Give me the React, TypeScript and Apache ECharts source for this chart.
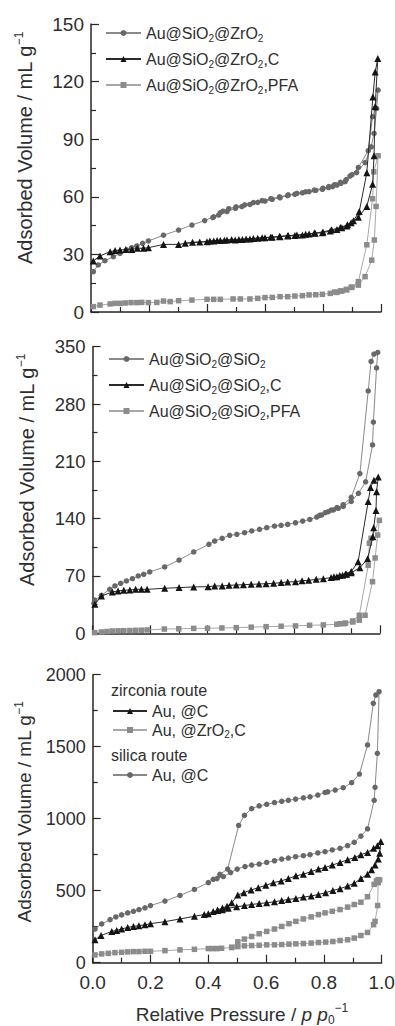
import React, { useEffect, useRef } from 'react';
import * as echarts from 'echarts';

const FONT = '"Liberation Sans", Arial, Helvetica, sans-serif';
const TXT = '#2e2e2e';
const AX = '#262626';

// ---------- Panel 1 (Au@SiO2@ZrO2 family) ----------
const p1CircleAds = [[0.008,21],[0.025,24.5],[0.048,26.7],[0.077,28.8],[0.1,30.5],[0.123,32.3],[0.14,33.5],[0.158,34.4],[0.178,35.8],[0.198,37],[0.25,40],[0.302,42.7],[0.348,45.3],[0.392,47.6],[0.423,49.6],[0.446,51.7],[0.469,52.3],[0.498,54],[0.52,54.9],[0.548,56],[0.575,57.1],[0.6,57.8],[0.625,58.7],[0.652,59.5],[0.678,60.6],[0.703,61.3],[0.729,62.1],[0.752,62.7],[0.775,63.3],[0.798,63.9],[0.819,64.8],[0.833,65.3],[0.848,66.1],[0.862,67],[0.876,67.9],[0.893,70.8],[0.916,72.6],[0.945,77.8],[0.966,86],[0.976,93],[0.985,106],[0.99,115.6]];
const p1CircleDes = [[0.98,106],[0.971,101.7],[0.956,84],[0.922,75.3],[0.9,71.5],[0.88,69],[0.86,67.5],[0.84,66.3],[0.82,65.3],[0.8,64.5],[0.77,63.5],[0.74,62.6],[0.71,61.8],[0.68,61],[0.65,60],[0.62,59],[0.59,58],[0.56,57],[0.53,55.8],[0.5,54.8],[0.475,53.8],[0.455,52.5],[0.44,50.5],[0.42,49.2]];
const p1TriAds = [[0.008,26.6],[0.031,29.2],[0.066,31.4],[0.083,32],[0.1,32.3],[0.12,32.6],[0.141,32.6],[0.16,33.2],[0.181,33.2],[0.198,33.5],[0.25,35.2],[0.302,35.2],[0.35,36.3],[0.4,36.6],[0.423,37],[0.446,37.2],[0.469,37.5],[0.497,37.5],[0.522,37.8],[0.548,38],[0.575,38.4],[0.6,38.7],[0.625,38.9],[0.652,39.2],[0.678,39.6],[0.703,39.8],[0.729,40.1],[0.752,40.6],[0.773,41],[0.798,41.3],[0.825,42.2],[0.848,43],[0.865,43.9],[0.882,44.8],[0.897,46.5],[0.922,49.3],[0.951,55],[0.971,66.5],[0.976,81.4],[0.98,107],[0.989,132]];
const p1TriDes = [[0.98,125],[0.972,112],[0.951,72.5],[0.925,52.3],[0.905,47.5],[0.885,45.5],[0.86,44],[0.83,42.8],[0.8,41.7],[0.77,41.1],[0.74,40.5],[0.71,40.1],[0.68,39.8],[0.65,39.4],[0.62,39],[0.59,38.7],[0.56,38.3],[0.535,38],[0.51,37.8],[0.485,37.7],[0.46,37.4],[0.435,37.3],[0.41,37],[0.375,36.4],[0.325,35.8]];
const p1SqAds = [[0.008,2.8],[0.031,3.6],[0.066,4.2],[0.083,4.5],[0.1,4.5],[0.118,4.7],[0.138,4.9],[0.158,4.9],[0.175,5],[0.198,4.9],[0.227,5],[0.25,5.7],[0.273,5.4],[0.302,5.9],[0.348,6.2],[0.4,6.6],[0.423,6.6],[0.446,6.6],[0.49,6.8],[0.515,6.8],[0.548,6.8],[0.575,7.1],[0.6,7.5],[0.625,7.6],[0.652,8],[0.678,8],[0.703,8.3],[0.729,8.5],[0.752,8.9],[0.775,9],[0.798,9.2],[0.825,9.7],[0.848,10.2],[0.865,10.9],[0.882,11.5],[0.897,12.8],[0.922,14],[0.945,18.4],[0.968,27],[0.977,37.5],[0.983,55],[0.99,81.4]];
const p1SqDes = [[0.975,73],[0.971,59],[0.951,35],[0.922,15.8],[0.9,13],[0.88,11.8],[0.86,11],[0.84,10.4]];

// ---------- Panel 2 (Au@SiO2@SiO2 family) ----------
const p2CircleAds = [[0.005,36.6],[0.008,40.5],[0.031,46.4],[0.06,53.7],[0.078,57.8],[0.098,61],[0.118,63.9],[0.139,66.7],[0.159,70],[0.178,72],[0.199,74.9],[0.251,81],[0.301,89.5],[0.352,99.3],[0.405,108.7],[0.425,112.7],[0.451,116],[0.477,119.7],[0.502,120.9],[0.529,122.9],[0.554,125],[0.581,127],[0.606,129],[0.633,131],[0.656,131.9],[0.679,133],[0.706,135],[0.731,137],[0.756,139],[0.78,142],[0.797,144.5],[0.82,148.5],[0.838,150.6],[0.855,152.6],[0.872,155],[0.9,161],[0.925,171],[0.95,185],[0.974,230],[0.977,258],[0.988,324],[0.992,343]];
const p2CircleDes = [[0.979,341],[0.969,332],[0.959,296],[0.93,195],[0.9,166],[0.872,157],[0.85,153.5],[0.83,150.5],[0.81,147.5],[0.79,144]];
const p2TriAds = [[0.008,35.4],[0.031,45.6],[0.069,50.5],[0.089,51.7],[0.109,52.5],[0.13,52.9],[0.15,53.7],[0.17,53.7],[0.19,53.7],[0.251,55],[0.301,55.8],[0.352,56.6],[0.402,57],[0.425,57.8],[0.451,57.8],[0.475,58.6],[0.5,59],[0.525,59.4],[0.552,59.8],[0.579,60.2],[0.604,60.6],[0.63,61],[0.656,61.9],[0.679,62.7],[0.706,63],[0.729,64.3],[0.752,64.7],[0.778,65.9],[0.803,66.7],[0.83,68],[0.85,69.2],[0.87,70.8],[0.884,72],[0.9,74],[0.93,80],[0.957,91],[0.975,118],[0.978,129],[0.986,150],[0.988,173],[0.994,191]];
const p2TriDes = [[0.979,187],[0.967,178],[0.959,161],[0.924,87.5],[0.9,75.5],[0.88,72.5],[0.86,70.5],[0.84,69]];
const p2SqAds = [[0.008,0.8],[0.031,1.6],[0.05,2.2],[0.069,2.8],[0.089,3],[0.109,3.2],[0.13,3.4],[0.15,3.6],[0.17,3.8],[0.19,4.1],[0.25,5.2],[0.3,5.5],[0.352,6],[0.4,6.1],[0.45,6.5],[0.5,6.9],[0.552,7.5],[0.604,8.1],[0.656,8.6],[0.706,9],[0.755,9.8],[0.803,10.2],[0.85,11],[0.876,11.8],[0.905,13.8],[0.928,16],[0.948,22],[0.974,63],[0.983,92],[0.992,120],[0.998,138]];
const p2SqDes = [[0.969,116],[0.963,110],[0.959,83],[0.928,22],[0.905,15],[0.88,12.5],[0.86,11.6]];

// ---------- Panel 3 (carbon replicas) ----------
const p3TriAds = [[0.008,159],[0.029,189],[0.066,217],[0.083,224],[0.1,234],[0.121,245],[0.141,252],[0.16,257],[0.181,264],[0.2,271],[0.25,285],[0.302,304],[0.352,322],[0.386,335],[0.4,340],[0.417,355],[0.432,362],[0.449,368],[0.469,378],[0.498,388],[0.525,397],[0.55,404],[0.576,411],[0.602,416],[0.629,423],[0.654,432],[0.677,439],[0.703,446],[0.729,456],[0.756,463],[0.781,474],[0.806,486],[0.831,502],[0.856,514],[0.882,533],[0.905,551],[0.928,584],[0.951,614],[0.965,645],[0.977,678],[0.988,720],[0.993,760],[0.997,841]];
const p3TriDes = [[0.985,812],[0.972,795],[0.951,766],[0.928,750],[0.907,731],[0.882,715],[0.856,696],[0.829,678],[0.804,661],[0.781,650],[0.756,633],[0.729,614],[0.703,603],[0.677,584],[0.652,568],[0.625,556],[0.599,537],[0.573,521],[0.548,505],[0.523,486],[0.502,470],[0.481,416],[0.465,392],[0.449,379],[0.432,366]];
const p3SqAds = [[0.008,54],[0.031,61],[0.054,65],[0.077,70],[0.1,72],[0.121,75],[0.141,77],[0.16,77],[0.181,79],[0.2,79],[0.25,84],[0.302,89],[0.352,93],[0.4,98],[0.415,98],[0.43,98],[0.446,100],[0.481,105],[0.502,112],[0.525,117],[0.55,119],[0.576,121],[0.602,124],[0.629,124],[0.654,126],[0.679,129],[0.703,131],[0.729,133],[0.756,136],[0.781,140],[0.806,143],[0.831,147],[0.856,154],[0.882,159],[0.905,171],[0.928,189],[0.951,210],[0.972,264],[0.977,287],[0.986,397],[0.988,556],[0.993,575]];
const p3SqDes = [[0.988,577],[0.982,568],[0.974,544],[0.951,458],[0.928,420],[0.905,404],[0.882,386],[0.856,369],[0.829,357],[0.804,346],[0.781,334],[0.756,318],[0.729,304],[0.703,287],[0.679,271],[0.654,252],[0.629,234],[0.602,217],[0.576,201],[0.55,182],[0.525,164],[0.502,145],[0.481,107]];
const p3CircleAds = [[0.008,234],[0.031,269],[0.06,299],[0.08,318],[0.1,332],[0.121,346],[0.141,357],[0.16,369],[0.181,381],[0.2,397],[0.25,428],[0.302,467],[0.352,509],[0.4,556],[0.417,579],[0.452,598],[0.477,626],[0.5,650],[0.527,668],[0.55,678],[0.576,685],[0.602,696],[0.629,708],[0.654,720],[0.677,727],[0.702,736],[0.729,743],[0.752,750],[0.779,762],[0.804,771],[0.829,783],[0.856,794],[0.882,813],[0.905,836],[0.928,879],[0.951,930],[0.974,1128],[0.977,1218],[0.985,1454],[0.991,1882]];
const p3CircleDes = [[0.98,1859],[0.971,1801],[0.951,1512],[0.923,1310],[0.896,1250],[0.867,1215],[0.839,1199],[0.813,1187],[0.804,1182],[0.779,1164],[0.752,1152],[0.729,1145],[0.702,1136],[0.677,1128],[0.654,1121],[0.629,1112],[0.602,1100],[0.576,1089],[0.55,1070],[0.525,1023],[0.505,953],[0.467,650],[0.44,614],[0.43,584]];

// ---------- axes ----------
const xTicks = { min: 0, max: 1, interval: 0.2 };
const yRanges = [
  { min: 0, max: 150, interval: 30 },
  { min: 0, max: 350, interval: 70 },
  { min: 0, max: 2000, interval: 500 },
];

const LEGEND_LABELS: Record<string, string> = {
  'Au@SiO2@ZrO2': 'Au@SiO{s|2}@ZrO{s|2}',
  'Au@SiO2@ZrO2,C': 'Au@SiO{s|2}@ZrO{s|2},C',
  'Au@SiO2@ZrO2,PFA': 'Au@SiO{s|2}@ZrO{s|2},PFA',
  'Au@SiO2@SiO2': 'Au@SiO{s|2}@SiO{s|2}',
  'Au@SiO2@SiO2,C': 'Au@SiO{s|2}@SiO{s|2},C',
  'Au@SiO2@SiO2,PFA': 'Au@SiO{s|2}@SiO{s|2},PFA',
  'zirconia route Au, @C': 'Au, @C',
  'zirconia route Au, @ZrO2,C': 'Au, @ZrO{s|2},C',
  'silica route Au, @C': 'Au, @C',
};

const STYLES: Record<string, any> = {
  circle: { symbol: 'circle', size: 5.5, fill: '#686868', line: '#8a8a8a', z: 3 },
  tri: { symbol: 'triangle', size: 7, fill: '#141414', line: '#2a2a2a', z: 4 },
  sq: { symbol: 'rect', size: 5.5, fill: '#8c8c8c', line: '#a8a8a8', z: 2 },
};

function mkSeries(name: string, idx: number, ads: number[][], des: number[][], kind: string) {
  const st = STYLES[kind];
  return {
    type: 'line',
    name,
    xAxisIndex: idx,
    yAxisIndex: idx,
    data: ads.concat(des),
    symbol: st.symbol,
    symbolSize: st.size,
    showSymbol: true,
    showAllSymbol: true,
    lineStyle: { color: st.line, width: 1 },
    itemStyle: { color: st.fill },
    emphasis: { disabled: true },
    z: st.z,
    clip: false,
  };
}

function mkLegend(names: string[], left: number, top: number, itemWidth: number, lineHeight: number, gap: number) {
  return {
    orient: 'vertical',
    left,
    top,
    padding: 0,
    itemWidth,
    itemHeight: 7.5,
    itemGap: gap,
    selectedMode: false,
    data: names,
    formatter: (n: string) => LEGEND_LABELS[n] || n,
    textStyle: {
      fontFamily: FONT,
      fontSize: 16,
      color: TXT,
      lineHeight,
      rich: {
        s: { fontFamily: FONT, fontSize: 10, lineHeight: 10, color: TXT, verticalAlign: 'bottom' },
      },
    },
  };
}

const grids = [
  { left: 91, top: 24, width: 290, height: 288 },
  { left: 92.5, top: 346.7, width: 287.5, height: 286.6 },
  { left: 92.7, top: 674.7, width: 289, height: 288 },
];
const yLabelSizes = [19, 18.5, 18];

export default function App() {
  const ref = useRef<HTMLDivElement>(null);
  useEffect(() => {
    document.body.style.margin = '0';
    if (!ref.current) return;
    const chart = echarts.init(ref.current, undefined, { renderer: 'svg' });

    const xAxis = grids.map((_, i) => ({
      type: 'value',
      gridIndex: i,
      ...xTicks,
      axisLine: { show: true, lineStyle: { color: AX, width: 1.5 } },
      axisTick: { show: true, inside: true, length: 8, lineStyle: { color: AX, width: 1.2 } },
      minorTick: { show: true, splitNumber: 2, length: 5, lineStyle: { color: AX, width: 1.2 } },
      splitLine: { show: false },
      axisLabel: {
        show: i === 2,
        margin: 10,
        fontFamily: FONT,
        fontSize: 19,
        color: TXT,
        formatter: (v: number) => v.toFixed(1),
      },
    }));
    const yAxis = grids.map((_, i) => ({
      type: 'value',
      gridIndex: i,
      ...yRanges[i],
      axisLine: { show: true, lineStyle: { color: AX, width: 1.5 } },
      axisTick: { show: true, inside: true, length: 8, lineStyle: { color: AX, width: 1.2 } },
      minorTick: { show: true, splitNumber: 2, length: 5, lineStyle: { color: AX, width: 1.2 } },
      splitLine: { show: false },
      axisLabel: {
        margin: 7,
        fontFamily: FONT,
        fontSize: yLabelSizes[i],
        color: TXT,
        formatter: (v: number) => String(v),
      },
    }));

    const series = [
      mkSeries('Au@SiO2@ZrO2,PFA', 0, p1SqAds, p1SqDes, 'sq'),
      mkSeries('Au@SiO2@ZrO2', 0, p1CircleAds, p1CircleDes, 'circle'),
      mkSeries('Au@SiO2@ZrO2,C', 0, p1TriAds, p1TriDes, 'tri'),
      mkSeries('Au@SiO2@SiO2,PFA', 1, p2SqAds, p2SqDes, 'sq'),
      mkSeries('Au@SiO2@SiO2', 1, p2CircleAds, p2CircleDes, 'circle'),
      mkSeries('Au@SiO2@SiO2,C', 1, p2TriAds, p2TriDes, 'tri'),
      mkSeries('zirconia route Au, @ZrO2,C', 2, p3SqAds, p3SqDes, 'sq'),
      mkSeries('silica route Au, @C', 2, p3CircleAds, p3CircleDes, 'circle'),
      mkSeries('zirconia route Au, @C', 2, p3TriAds, p3TriDes, 'tri'),
    ];

    const legend = [
      mkLegend(['Au@SiO2@ZrO2', 'Au@SiO2@ZrO2,C', 'Au@SiO2@ZrO2,PFA'], 105, 23, 35, 20, 6),
      mkLegend(['Au@SiO2@SiO2', 'Au@SiO2@SiO2,C', 'Au@SiO2@SiO2,PFA'], 108, 349, 35, 20, 6),
      mkLegend(['zirconia route Au, @C', 'zirconia route Au, @ZrO2,C'], 112, 701.5, 34, 19, 0),
      mkLegend(['silica route Au, @C'], 112, 765.5, 34, 19, 0),
    ];

    const yTitle = (x: number, y: number, size: number) => ({
      type: 'text',
      x,
      y,
      rotation: Math.PI / 2,
      silent: true,
      style: {
        text: 'Adsorbed Volume / mL g{sup|−1}',
        fontFamily: FONT,
        fontSize: size,
        lineHeight: size + 4,
        fill: TXT,
        align: 'center',
        verticalAlign: 'middle',
        rich: {
          sup: { fontFamily: FONT, fontSize: Math.round(size * 0.62), lineHeight: Math.round(size * 0.62), fill: TXT, verticalAlign: 'top' },
        },
      },
    });

    const headerText = (text: string, x: number, y: number) => ({
      type: 'text',
      x,
      y,
      silent: true,
      style: { text, fontFamily: FONT, fontSize: 16, fill: TXT, align: 'left', verticalAlign: 'middle' },
    });

    const graphic = [
      yTitle(25, 148, 20),
      yTitle(27, 470, 20),
      yTitle(24.5, 812, 19),
      headerText('zirconia route', 111, 690),
      headerText('silica route', 111, 755),
      {
        type: 'text',
        x: 242,
        y: 1014,
        silent: true,
        style: {
          text: 'Relative Pressure / {i|p} {i|p}{sub|0}{sup|−1}',
          fontFamily: FONT,
          fontSize: 19,
          lineHeight: 24,
          fill: TXT,
          align: 'center',
          verticalAlign: 'middle',
          rich: {
            i: { fontFamily: FONT, fontSize: 19, lineHeight: 24, fontStyle: 'italic', fill: TXT },
            sub: { fontFamily: FONT, fontSize: 12, lineHeight: 12, fill: TXT, verticalAlign: 'bottom' },
            sup: { fontFamily: FONT, fontSize: 12, lineHeight: 12, fill: TXT, verticalAlign: 'top' },
          },
        },
      },
    ];

    chart.setOption({
      animation: false,
      backgroundColor: '#ffffff',
      grid: grids.map((g) => ({ ...g, containLabel: false, outerBoundsMode: 'none' })),
      xAxis,
      yAxis,
      legend,
      series,
      graphic,
    } as any);

    return () => chart.dispose();
  }, []);

  return <div ref={ref} style={{ width: 395, height: 1026 }} />;
}
